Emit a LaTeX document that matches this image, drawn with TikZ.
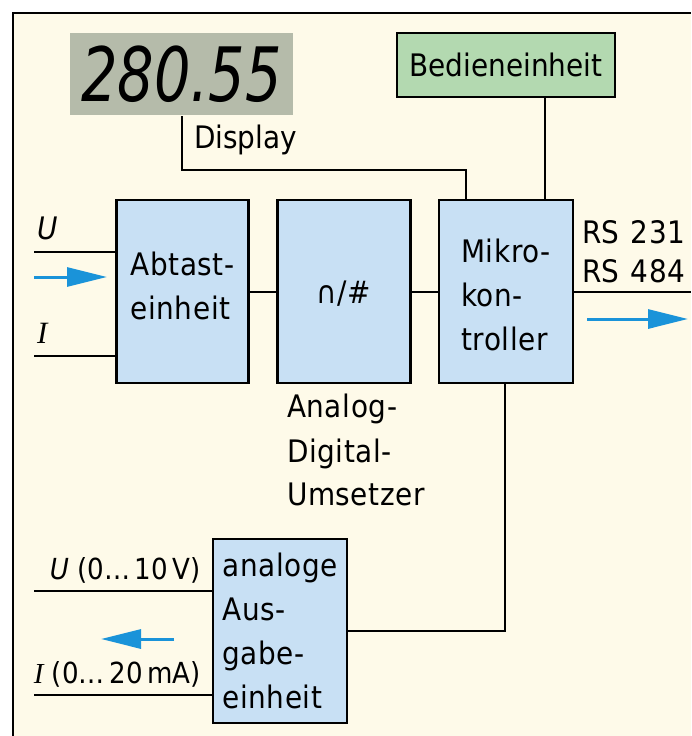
\documentclass[tikz,border=0pt]{standalone}
\usepackage{fontspec}
\usepackage{graphicx}
\setmainfont{DejaVu Sans Condensed}[LetterSpace=2]
\newfontfamily\serifit{Liberation Serif}
\usetikzlibrary{arrows.meta}
\definecolor{cream}{HTML}{FEFAE9}
\definecolor{boxblue}{HTML}{C8E0F4}
\definecolor{boxgreen}{HTML}{B3D9B0}
\definecolor{dispgray}{HTML}{B5BBAA}
\definecolor{arrowblue}{HTML}{1A93D9}
\newcommand{\nols}{\addfontfeatures{LetterSpace=0}}
\begin{document}
\begin{tikzpicture}[x=1pt,y=-1pt,
  line width=2pt,
  txt/.style={font=\fontsize{31}{44}\selectfont, inner sep=0pt},
  txtn/.style={font=\fontsize{31}{44}\selectfont\nols, inner sep=0pt},
  blk/.style={draw=black, line width=2.2pt, fill=boxblue, minimum width=132pt, minimum height=183pt, inner sep=0pt},
  boxtxt/.style={txt, align=left},
  conn/.style={draw=black, line width=2pt},
  bluearrow/.style={draw=arrowblue, line width=3pt, -{Triangle[length=40pt,width=19pt]}}
]
\useasboundingbox (0,0) rectangle (691,736);
\fill[cream] (13,13) rectangle (691,736);
\draw[line width=2pt] (13,736) -- (13,13) -- (691,13);

% display and operating unit
\node[fill=dispgray, minimum width=223pt, minimum height=82pt, inner sep=0pt] (disp) at (181.5,74)
  {\fontsize{75}{75}\selectfont\itshape\nols\scalebox{0.85}[1]{280.55}};
\node[draw=black, line width=2.2pt, fill=boxgreen, minimum width=218pt, minimum height=64pt, inner sep=0pt, txtn] (bed) at (506,65) {Bedieneinheit};
\node[txtn, anchor=base west] (displbl) at (193,148) {Display};

% main blocks
\node[blk] (abt) at (182.5,291.5) {};
\node[blk, minimum width=133pt] (adc) at (344,291.5) {};
\node[blk, minimum width=134pt] (mik) at (506,291.5) {};
\node[blk, minimum width=134pt, minimum height=184pt] (aus) at (280,631) {};

\node[boxtxt] (abtT) at ([yshift=6pt]abt.center) {Abtast-\\einheit};
\node[txt, font=\fontsize{31}{31}\selectfont] (adcT) at ([yshift=-2pt]adc.center) {∩/\#};
\node[boxtxt] (mikT) at ([yshift=-3pt]mik.center) {Mikro-\\kon-\\troller};
\node[boxtxt] (ausT) at (aus.center) {analoge\\Aus-\\gabe-\\einheit};

% ADC label
\node[txt, anchor=base west] (ad1) at (286,417) {Analog-};
\node[txt, anchor=base west] (ad2) at (286,462) {Digital-};
\node[txt, anchor=base west] (ad3) at (286,505) {Umsetzer};

% RS labels
\node[txt, anchor=base west] (rs1) at (581,243) {RS\hspace{11pt}231};
\node[txt, anchor=base west] (rs2) at (581,282) {RS\hspace{11pt}484};

% input labels
\node[txt, anchor=base west] (ulbl) at (36,239) {\itshape U};
\node[txt, anchor=base west] (ilbl) at (36,343) {\serifit\itshape I};

% output labels
\node[txt, font=\fontsize{29}{44}\selectfont\nols, anchor=base east] (uout) at (202,579) {\itshape U\normalfont\nols\ (0…\,10\,V)};
\node[txt, font=\fontsize{29}{44}\selectfont\nols, anchor=base east] (iout) at (202,683) {{\serifit\itshape I}\ (0…\,20\,mA)};

% coordinates
\coordinate (dj) at (466,170);
\coordinate (uin) at (34,252);
\coordinate (iin) at (34,356);
\coordinate (ainS) at (34,277);
\coordinate (ainE) at (107,277);
\coordinate (rsE) at (691,292);
\coordinate (aoutS) at (587,319);
\coordinate (aoutE) at (688,319);
\coordinate (uo) at (34,591);
\coordinate (io) at (34,695);
\coordinate (blS) at (174,639);
\coordinate (blE) at (101,639);
\coordinate (mikdown) at (505,383);

% connectors
\draw[conn] (disp.south) |- (dj) -- (dj |- mik.north);
\draw[conn] ([xshift=39pt]bed.south) -- ([xshift=39pt]bed.south |- mik.north);
\draw[conn] (abt) -- (adc);
\draw[conn] (adc) -- (mik);
\draw[conn] (uin) -- (uin -| abt.west);
\draw[conn] (iin) -- (iin -| abt.west);
\draw[conn] (mik.east |- rsE) -- (rsE);
\draw[conn] (mikdown) |- (aus.east);
\draw[conn] (uo) -- (uo -| aus.west);
\draw[conn] (io) -- (io -| aus.west);

% blue arrows
\draw[bluearrow] (ainS) -- (ainE);
\draw[bluearrow] (aoutS) -- (aoutE);
\draw[bluearrow] (blS) -- (blE);
\end{tikzpicture}
\end{document}
